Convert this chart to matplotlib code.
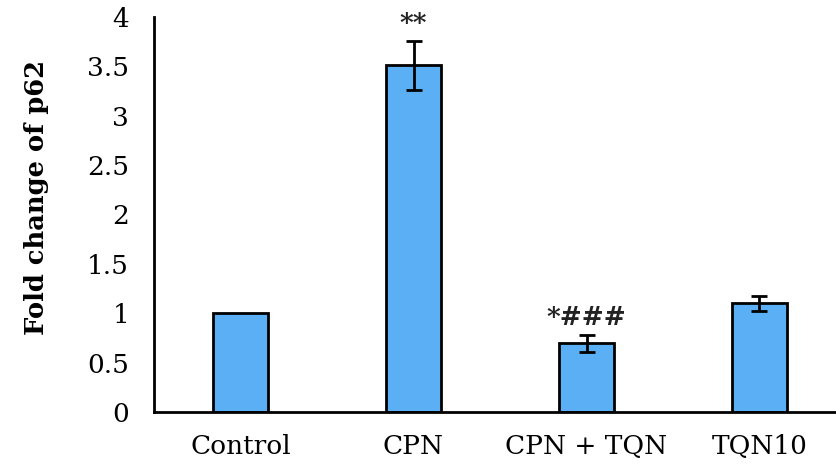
import matplotlib
matplotlib.use("Agg")
import matplotlib.pyplot as plt

# data
groups = ["Control", "CPN", "CPN + TQN", "TQN10"]
fold_change = [1.0, 3.51, 0.70, 1.10]
err_low = [0.0, 0.25, 0.09, 0.08]
err_high = [0.0, 0.25, 0.08, 0.07]
marks = ["", "**", "*###", ""]
yticks = [0, 0.5, 1, 1.5, 2, 2.5, 3, 3.5, 4]

plt.rcParams['font.family'] = ['DejaVu Serif']

fig = plt.figure(figsize=(8.36, 4.67), dpi=100)
# axis runs a bit past the right edge, like the cropped original
ax = fig.add_axes([154/836, 1 - 412/467, (846 - 154)/836, (412 - 17)/467])

x = list(range(len(groups)))
ax.bar(x, fold_change, width=0.32, color="#5aaff5", edgecolor="black", linewidth=2, zorder=2)
has_err = [i for i in x if err_high[i] > 0]
ax.errorbar([x[i] for i in has_err], [fold_change[i] for i in has_err],
            yerr=[[err_low[i] for i in has_err], [err_high[i] for i in has_err]],
            fmt="none", ecolor="black", elinewidth=2, capsize=6, capthick=2, zorder=3)

for i, m in enumerate(marks):
    if m:
        top = fold_change[i] + err_high[i]
        ax.text(i, top + 0.05, m, ha="center", va="bottom", fontsize=19,
                fontweight="bold", color="#222222")

ax.set_xlim(-0.5, 3.5)
ax.set_ylim(0, 4)
ax.set_yticks(yticks)
ax.set_yticklabels([f"{t:g}" for t in yticks])
ax.set_xticks(x)
ax.set_xticklabels(groups)
ax.tick_params(axis="both", length=0, labelsize=19)
ax.tick_params(axis="y", pad=18)
ax.tick_params(axis="x", pad=16)
ax.spines["top"].set_visible(False)
ax.spines["right"].set_visible(False)
ax.spines["left"].set_linewidth(2)
ax.spines["bottom"].set_linewidth(2)
ax.set_ylabel("Fold change of p62", fontsize=18.5, fontweight="bold")
ax.yaxis.set_label_coords(-0.152, 0.544)

fig.savefig("out.png", dpi=100)
